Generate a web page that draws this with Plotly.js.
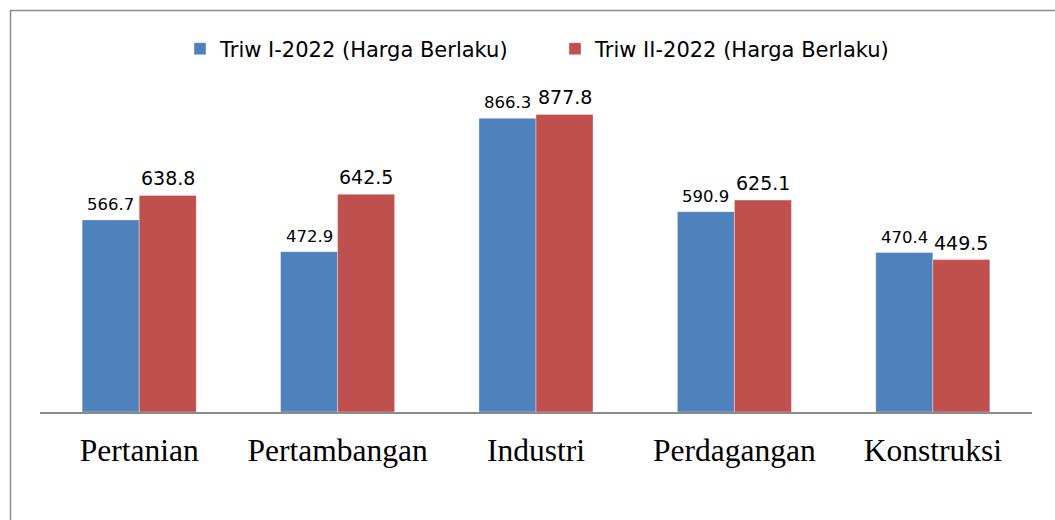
<!DOCTYPE html>
<html>
<head>
<meta charset="utf-8">
<script src="https://cdn.plot.ly/plotly-3.0.1.min.js"></script>
<style>
html,body{margin:0;padding:0;background:#fff;}
#chart{width:1055px;height:520px;}
</style>
</head>
<body>
<div id="chart"></div>
<script>
const categories = ["Pertanian", "Pertambangan", "Industri", "Perdagangan", "Konstruksi"];
const triw1 = [566.7, 472.9, 866.3, 590.9, 470.4];
const triw2 = [638.8, 642.5, 877.8, 625.1, 449.5];
const seriesNames = ["Triw I-2022 (Harga Berlaku)", "Triw II-2022 (Harga Berlaku)"];

const W = 1055, H = 520;
const M = {l: 40, r: 23, t: 73, b: 108};
const pw = W - M.l - M.r, ph = H - M.t - M.b;
const px2x = p => (p - M.l) / pw;
const py2y = p => (H - M.b - p) / ph;

const traces = [
  {type: "bar", x: categories, y: triw1, name: seriesNames[0],
   marker: {color: "#4F81BD", line: {color: "rgba(255,255,255,0.35)", width: 1}}, hoverinfo: "none"},
  {type: "bar", x: categories, y: triw2, name: seriesNames[1],
   marker: {color: "#C0504D", line: {color: "rgba(255,255,255,0.35)", width: 1}}, hoverinfo: "none"}
];

const annotations = [];
categories.forEach((c, i) => {
  annotations.push({x: c, y: triw1[i], xref: "x", yref: "y", text: triw1[i].toFixed(1),
    showarrow: false, xanchor: "center", yanchor: "bottom", xshift: -28.5, yshift: 4,
    font: {family: "DejaVu Sans, sans-serif", size: 16.5, color: "#000"}});
  annotations.push({x: c, y: triw2[i], xref: "x", yref: "y", text: triw2[i].toFixed(1),
    showarrow: false, xanchor: "center", yanchor: "bottom", xshift: 28.5, yshift: 4,
    font: {family: "DejaVu Sans, sans-serif", size: 19, color: "#000"}});
});

const layout = {
  width: W, height: H,
  margin: M,
  paper_bgcolor: "#fff", plot_bgcolor: "#fff",
  barmode: "group", bargap: 0.425, bargroupgap: 0,
  showlegend: true,
  legend: {orientation: "h", xref: "paper", x: px2x(180), xanchor: "left", y: py2y(49), yanchor: "middle",
    entrywidth: 330, entrywidthmode: "pixels",
    font: {family: "DejaVu Sans, sans-serif", size: 21, color: "#000"}, traceorder: "normal"},
  xaxis: {type: "category", showline: true, linecolor: "#8c8c8c", linewidth: 1.5,
    showgrid: false, zeroline: false, ticks: "", ticklabelstandoff: 10,
    tickfont: {family: "Liberation Serif, Times New Roman, serif", size: 31.5, color: "#000"}},
  yaxis: {range: [0, 1000], visible: false, showgrid: false, zeroline: false},
  annotations: annotations,
  shapes: [{type: "rect", xref: "paper", yref: "paper",
    x0: px2x(10.5), x1: px2x(1065), y0: py2y(530), y1: py2y(10.5),
    line: {color: "#8a8a8a", width: 1.5}, fillcolor: "rgba(0,0,0,0)", layer: "above"}]
};

Plotly.newPlot("chart", traces, layout, {staticPlot: true, displayModeBar: false});
</script>
</body>
</html>
